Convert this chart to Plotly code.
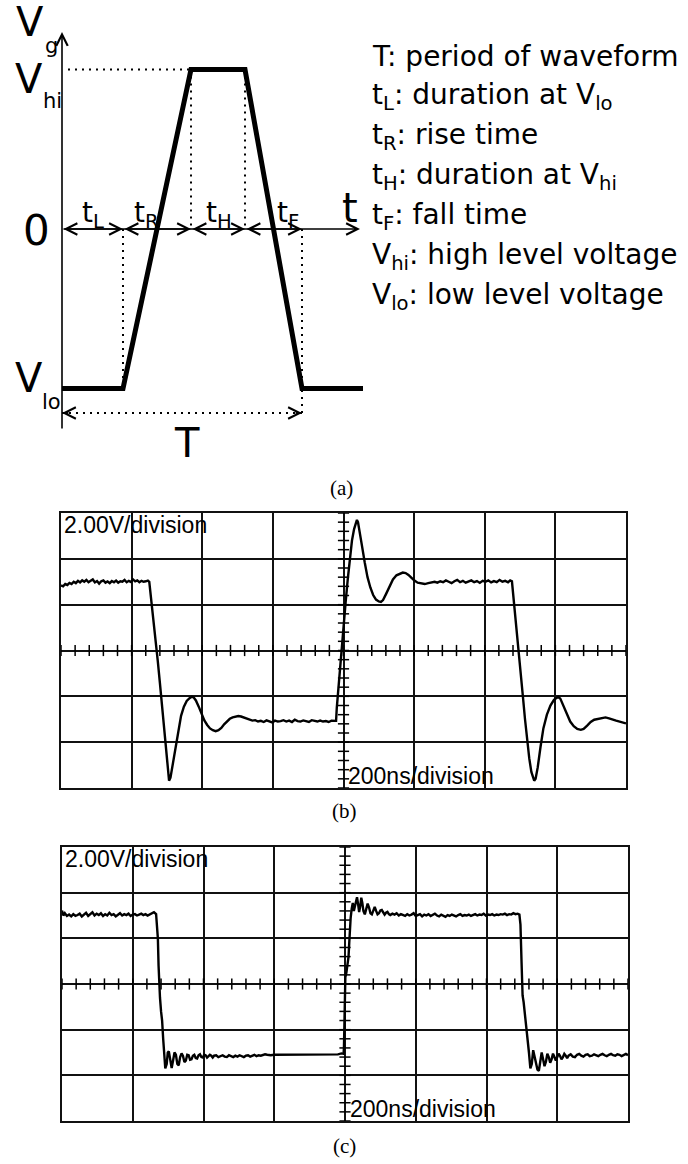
import plotly.graph_objects as go
import numpy as np

W, H = 688, 1164

# ---------------- (a) ideal trapezoidal waveform ----------------
a_t = [0, 61, 129, 183, 240, 301]          # time marks (arb. units)
a_v = [-1, -1, 1, 1, -1, -1]               # V_lo = -1, V_hi = +1
T_level = -1.154                           # level of the T arrow
legend_lines = [
    "T: period of waveform",
    "t<sub>L</sub>: duration at V<sub>lo</sub>",
    "t<sub>R</sub>: rise time",
    "t<sub>H</sub>: duration at V<sub>hi</sub>",
    "t<sub>F</sub>: fall time",
    "V<sub>hi</sub>: high level voltage",
    "V<sub>lo</sub>: low level voltage",
]

# ---------------- (b) measured waveform (ns, V) ----------------
b_t1 = [0,6,12,18,24,30,36,42,48,54, 60,66,72,78,84,90,96,102,108,114,
        120,126,132,138,144,150,156,162,168,174, 180,186,192,198,204,210,216,222,228,234, 240,246,250]
b_v1 = [2.84,2.80,2.90,2.86,2.95,2.90,3.00,2.94,3.04,2.97, 3.06,3.00,3.08,2.98,3.04,3.10,2.97,3.03,2.92,3.02,
        3.06,2.96,3.01,2.94,3.03,2.98,3.05,2.96,3.02,3.00, 3.08,2.98,3.04,2.99,3.10,3.02,3.06,2.98,3.04,3.00, 3.02,3.05,3.00]
b_t2 = [253,256,260,264,268,274,280,286,292,298, 302,306,310,316,324,332,340,348,356,364,
        370,376,382,390,398,406,414,422,430,438, 446,454,462,470,478,486,494,502,510,518,
        526,534,542,550,558,566,574,582,590,598, 606,614,622,630,638,646,654,662,670,678,
        686,694,702,710,718,726,734,742,750,758, 766,774,779]
b_v2 = [2.60,2.05,1.65,1.10,0.45,-0.45,-1.40,-2.35,-3.30,-4.30, -5.00,-5.68,-5.55,-5.00,-4.20,-3.45,-2.85,-2.45,-2.20,-2.08,
        -2.02,-2.05,-2.18,-2.45,-2.78,-3.05,-3.25,-3.40,-3.48,-3.52, -3.48,-3.38,-3.22,-3.08,-2.98,-2.92,-2.88,-2.86,-2.88,-2.93,
        -2.98,-3.02,-3.06,-3.04,-3.10,-3.07,-3.12,-3.05,-3.10,-3.14, -3.06,-3.10,-3.08,-3.04,-3.10,-3.06,-3.12,-3.02,-3.08,-3.10,
        -3.05,-3.09,-3.12,-3.04,-3.08,-3.10,-3.06,-3.10,-3.08,-3.12, -3.06,-3.08,-3.07]
b_t3 = [781,784,787,790,795,800,806,812,818,824, 830,835,838,841,846,852,860,868,876,884,
        892,900,906,912,920,930,940,950,960,968, 976,984,992,1000,1010,1020,1030,1040,1050,1058,
        1066,1074,1082,1090,1098,1106,1114,1122,1130,1138, 1146,1154,1162,1170,1178,1186,1194,1202,1210,1218,
        1226,1234,1242,1250,1258,1266,1272,1277]
b_v3 = [-2.50,-1.90,-1.60,-1.00,0.00,1.00,2.10,3.10,4.00,4.80, 5.30,5.60,5.70,5.60,5.20,4.60,3.85,3.20,2.75,2.42,
        2.22,2.14,2.12,2.20,2.45,2.80,3.10,3.28,3.36,3.40, 3.38,3.30,3.18,3.06,2.96,2.92,2.90,2.94,2.97,3.00,
        2.96,3.02,2.98,3.06,3.00,2.94,3.02,3.08,2.98,3.04, 2.96,3.02,3.06,2.98,3.03,2.95,3.04,3.00,3.06,2.97,
        3.03,2.98,3.08,3.00,3.04,2.98,3.06,3.02]
b_t4 = [1280,1284,1288,1292,1296,1302,1308,1314,1320,1326, 1332,1336,1340,1344,1350,1358,1366,1376,1386,1396,
        1404,1408,1414,1422,1432,1442,1452,1462,1472,1480, 1490,1500,1510,1520,1530,1542,1552,1562,1572,1582,
        1590,1596,1600]
b_v4 = [2.50,2.00,1.30,0.60,0.00,-1.00,-2.00,-3.00,-3.90,-4.70, -5.30,-5.55,-5.68,-5.60,-5.10,-4.20,-3.40,-2.80,-2.40,-2.15,
        -2.05,-2.02,-2.10,-2.40,-2.80,-3.10,-3.30,-3.42,-3.46,-3.42, -3.28,-3.12,-3.02,-2.98,-2.94,-2.92,-2.96,-3.02,-3.06,-3.10,
        -3.14,-3.16,-3.18]

# ---------------- (c) measured waveform (ns, V) ----------------
c_t1 = [0,4,8,14,20,26,32,38,44,50, 56,62,68,74,80,86,92,98,104,110,
        116,122,128,134,140,146,152,158,164,170, 176,182,188,194,200,206,212,218,224,230, 236,242,248,254,260,266]
c_v1 = [3.22,3.00,3.10,2.98,3.04,2.96,3.06,2.98,3.02,3.08, 2.96,3.04,3.12,2.98,3.06,3.14,3.00,3.08,3.02,3.10,
        2.98,3.06,3.00,3.12,3.02,3.06,2.96,3.04,3.10,3.00, 3.06,3.02,3.08,2.98,3.04,3.06,3.00,3.04,3.08,3.02, 3.06,3.00,3.04,3.08,3.14,3.06]
c_t2 = [268,271,273,275,277,280,283,286,289,292, 296,299,302,306,310,314,318,322,326,330,
        334,338,342,346,350,354,358,362,366,370, 374,378,382,386,390,394,398,402,406,410,
        414,418,422,426,430,436,442,448,454,460, 466,472,478,484,490,496,502,508,514,520,
        526,532,538,544,550,556,562,568,574,580, 590,600,620,640,660,680,700,720,740,760, 780,790,796]
c_v2 = [2.60,2.00,0.80,-0.20,-0.60,-1.20,-1.60,-2.40,-3.30,-3.70, -3.50,-3.00,-2.95,-3.40,-3.68,-3.35,-3.00,-3.10,-3.50,-3.56,
        -3.20,-3.04,-3.15,-3.42,-3.36,-3.10,-3.12,-3.32,-3.30,-3.14, -3.10,-3.24,-3.26,-3.12,-3.08,-3.20,-3.22,-3.10,-3.12,-3.22,
        -3.16,-3.10,-3.14,-3.22,-3.14,-3.12,-3.20,-3.16,-3.12,-3.18, -3.20,-3.12,-3.16,-3.20,-3.14,-3.18,-3.12,-3.16,-3.20,-3.14,
        -3.12,-3.18,-3.14,-3.10,-3.16,-3.12,-3.14,-3.10,-3.08,-3.10, -3.12,-3.10,-3.10,-3.10,-3.11,-3.10,-3.10,-3.10,-3.09,-3.10, -3.08,-3.04,-3.06]
c_t3 = [797,798,799,801,804,807,810,812,814,816, 819,822,825,828,831,834,837,840,843,846,
        849,852,856,860,864,868,872,876,880,884, 888,892,896,900,904,908,912,916,920,924,
        928,934,940,946,952,958,964,970,976,982, 988,994,1000,1006,1012,1018,1024,1030,1036,1042,
        1048,1054,1060,1066,1072,1078,1084,1090,1096,1102, 1108,1114,1120,1126,1132,1138,1144,1150,1156,1162,
        1168,1174,1180,1186,1192,1198,1204,1210,1216,1222, 1228,1234,1240,1246,1252,1258,1264,1270,1276,1282, 1288,1293]
c_v3 = [-2.80,-1.50,-0.20,0.30,0.50,0.90,1.20,1.80,2.50,2.90, 3.30,3.55,3.20,3.45,3.70,3.80,3.50,3.15,3.40,3.78,
        3.55,3.20,3.05,3.30,3.52,3.35,3.10,3.05,3.25,3.38, 3.20,3.05,3.10,3.22,3.24,3.10,3.04,3.12,3.16,3.06,
        3.02,3.08,3.04,3.10,3.00,3.06,3.02,2.98,3.06,3.00, 3.04,3.10,2.98,3.02,3.06,2.96,3.04,3.00,3.06,2.98,
        3.02,3.08,3.00,2.96,3.04,3.00,2.94,3.02,2.98,3.04, 3.00,2.96,3.02,3.06,2.98,3.02,3.00,3.04,2.98,3.02,
        3.06,3.00,3.04,3.02,3.08,3.00,3.04,3.02,3.06,3.00, 3.04,3.02,3.06,3.04,3.08,3.02,3.06,3.04,3.10,3.06, 3.08,3.04]
c_t4 = [1296,1299,1302,1305,1308,1312,1316,1320,1324,1328, 1332,1336,1340,1344,1348,1352,1356,1360,1364,1368,
        1372,1376,1380,1384,1388,1392,1396,1400,1404,1408, 1412,1416,1420,1424,1428,1432,1438,1444,1450,1456,
        1462,1468,1474,1480,1486,1492,1498,1504,1510,1516, 1522,1528,1534,1540,1546,1552,1558,1564,1570,1576,
        1582,1588,1594,1600]
c_v4 = [2.60,1.00,-0.50,-0.80,-1.20,-1.80,-2.30,-3.00,-3.70,-3.50, -2.90,-3.20,-3.60,-3.75,-3.80,-3.40,-3.00,-3.30,-3.60,-3.40,
        -3.05,-3.20,-3.45,-3.30,-3.05,-3.20,-3.35,-3.20,-3.05,-3.15, -3.30,-3.20,-3.06,-3.14,-3.25,-3.14,-3.08,-3.18,-3.20,-3.10,
        -3.06,-3.14,-3.18,-3.10,-3.08,-3.16,-3.14,-3.08,-3.12,-3.16, -3.10,-3.06,-3.12,-3.16,-3.10,-3.06,-3.12,-3.14,-3.08,-3.10,
        -3.16,-3.10,-3.06,-3.12]

for tt, vv in [(b_t1,b_v1),(b_t2,b_v2),(b_t3,b_v3),(b_t4,b_v4),(c_t1,c_v1),(c_t2,c_v2),(c_t3,c_v3),(c_t4,c_v4)]:
    assert len(tt) == len(vv), (len(tt), len(vv))

b_t = b_t1 + b_t2 + b_t3 + b_t4
b_v = b_v1 + b_v2 + b_v3 + b_v4
c_t = c_t1 + c_t2 + c_t3 + c_t4
c_v = c_v1 + c_v2 + c_v3 + c_v4

scope_x = [0, 1600, 200]     # 200 ns/division, 8 divisions
scope_y = [-6, 6, 2]         # 2.00 V/division, 6 divisions

# ---------------- layout helpers ----------------
def py(y):
    return 1 - y / H

def px(x):
    return x / W

fig = go.Figure()

# (a) waveform
fig.add_trace(go.Scatter(x=a_t, y=a_v, mode="lines", line=dict(color="black", width=5),
                         xaxis="x", yaxis="y", hoverinfo="skip"))
dot = dict(color="black", width=2, dash="2px,5px")
dotted = [
    ([a_t[1], a_t[1]], [0, a_v[1]]),
    ([a_t[2], a_t[2]], [a_v[2], 0]),
    ([a_t[3], a_t[3]], [a_v[3], 0]),
    ([a_t[4], a_t[4]], [0, T_level]),
    ([6, a_t[2]], [a_v[2], a_v[2]]),
    ([0, a_t[4]], [T_level, T_level]),
]
for xs, ys in dotted:
    fig.add_trace(go.Scatter(x=xs, y=ys, mode="lines", line=dot, xaxis="x", yaxis="y", hoverinfo="skip"))

ann = []
def arrow(x0, y0, x1, y1, both=False, w=1.6):
    ann.append(dict(x=x1, y=y1, ax=x0, ay=y0, xref="x", yref="y", axref="x", ayref="y",
                    text="", showarrow=True, arrowhead=5, startarrowhead=5,
                    arrowside="end+start" if both else "end",
                    arrowwidth=w, arrowsize=1.4, startarrowsize=1.4, arrowcolor="black"))

arrow(0, -1.26, 0, 1.235)             # V_g axis
arrow(0, 0, 298, 0)                   # t axis
for i in range(4):
    arrow(a_t[i] if i else 0, 0, a_t[i + 1], 0, both=True)
arrow(8, T_level, 0, T_level)
arrow(a_t[4] - 8, T_level, a_t[4], T_level)

def txt(s, x, y, size, fam="DejaVu Sans", xa="center", ya="middle"):
    ann.append(dict(text=s, x=px(x), y=py(y), xref="paper", yref="paper", showarrow=False,
                    xanchor=xa, yanchor=ya, font=dict(family=fam, size=size, color="black")))

txt("V", 30, 22, 40)
txt("g", 51, 46, 21)
txt("V", 29, 79, 40)
txt("hi", 52, 101, 21)
txt("V", 29, 378, 40)
txt("lo", 51, 402, 21)
txt("0", 36, 231, 42)
txt("t", 350, 208, 40)
txt("T", 187, 443, 40)
txt("t<sub>L</sub>", 93, 214, 28)
txt("t<sub>R</sub>", 146, 214, 28)
txt("t<sub>H</sub>", 219, 214, 28)
txt("t<sub>F</sub>", 288, 214, 28)
for i, s in enumerate(legend_lines):
    txt(s, 370, 56 + 40 * i, 28, xa="left")

txt("(a)", 341, 488, 21, fam="Liberation Serif")
txt("(b)", 344, 811, 21, fam="Liberation Serif")
txt("(c)", 344, 1146, 21, fam="Liberation Serif")

# scope panels
panels = [
    ("x2", "y2", b_t, b_v, (61, 626, 513, 788)),
    ("x3", "y3", c_t, c_v, (62, 628, 847, 1121)),
]
for xa_, ya_, tt, vv, (x0, x1, y0, y1) in panels:
    fig.add_trace(go.Scatter(x=tt, y=vv, mode="lines", line=dict(color="black", width=2.4),
                             xaxis=xa_, yaxis=ya_, hoverinfo="skip"))
    mx = np.arange(scope_x[0], scope_x[1] + 1, scope_x[2] / 5)
    fig.add_trace(go.Scatter(x=mx, y=np.zeros_like(mx), mode="markers", xaxis=xa_, yaxis=ya_,
                             marker=dict(symbol="line-ns", size=8, line=dict(width=1.5, color="black")),
                             hoverinfo="skip"))
    my = np.arange(scope_y[0], scope_y[1] + 0.001, scope_y[2] / 5)
    fig.add_trace(go.Scatter(x=np.full_like(my, (scope_x[0] + scope_x[1]) / 2), y=my, mode="markers",
                             xaxis=xa_, yaxis=ya_,
                             marker=dict(symbol="line-ew", size=8, line=dict(width=1.5, color="black")),
                             hoverinfo="skip"))
    txt("2.00V/division", x0 + 1, y0 - 3, 23, fam="Liberation Sans", xa="left", ya="top")
    txt("200ns/division", (x0 + x1) / 2 + 3, y1 + 3, 23, fam="Liberation Sans", xa="left", ya="bottom")

grid = dict(showgrid=True, gridcolor="#111", gridwidth=1.5, showticklabels=False, ticks="",
            zeroline=False, showline=True, mirror=True, linecolor="#111", linewidth=1.6, fixedrange=True)
layout = dict(
    width=W, height=H, margin=dict(l=0, r=0, t=0, b=0), showlegend=False,
    paper_bgcolor="white", plot_bgcolor="white",
    xaxis=dict(domain=[0, 1], range=[-62, 626], visible=False, fixedrange=True),
    yaxis=dict(domain=[py(470), 1], range=[(229 - 470) / 159.5, 229 / 159.5], visible=False, fixedrange=True),
    xaxis2=dict(domain=[px(61), px(626)], range=scope_x[:2], dtick=scope_x[2], tick0=0, anchor="y2", **grid),
    yaxis2=dict(domain=[py(788), py(513)], range=scope_y[:2], dtick=scope_y[2], tick0=0, anchor="x2", **grid),
    xaxis3=dict(domain=[px(62), px(628)], range=scope_x[:2], dtick=scope_x[2], tick0=0, anchor="y3", **grid),
    yaxis3=dict(domain=[py(1121), py(847)], range=scope_y[:2], dtick=scope_y[2], tick0=0, anchor="x3", **grid),
    annotations=ann,
)
fig.update_layout(**layout)
fig.write_html("out.html")
